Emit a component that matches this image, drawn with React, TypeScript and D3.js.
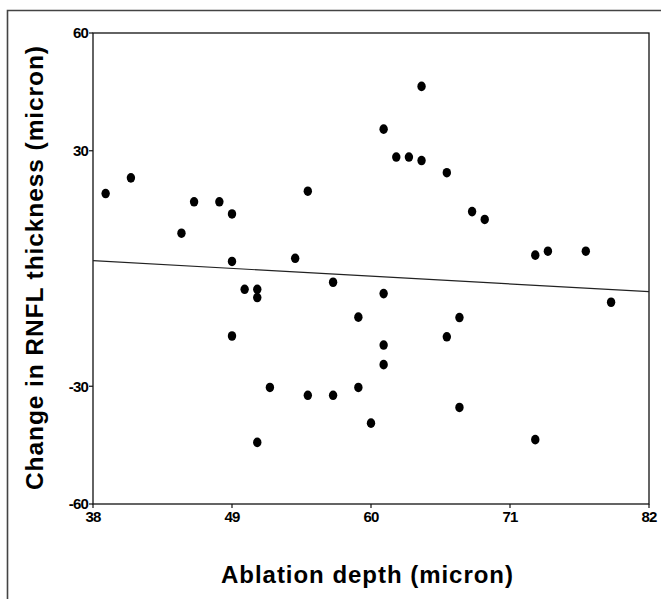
import { useRef, useEffect } from 'react';
import * as d3 from 'd3';

// values
const depth = [39, 41, 45, 46, 48, 49, 49, 49, 50, 51, 51, 51, 52, 54, 55, 55, 57, 57, 59, 59,
    60, 61, 61, 61, 61, 62, 63, 64, 64, 66, 66, 67, 67, 68, 69, 73, 73, 74, 77, 79];
const change = [19.1, 23.1, 9.0, 17.0, 17.0, 13.9, 1.8, -17.2, -5.3, -5.3, -7.4, -44.3, -30.3, 2.6, 19.7, -32.3, -3.5, -32.3, -12.4, -30.3,
    -39.4, 35.5, -6.4, -19.5, -24.5, 28.4, 28.4, 46.4, 27.5, 24.4, -17.4, -12.5, -35.4, 14.5, 12.5, 3.4, -43.6, 4.4, 4.4, -8.6];
const fitX = [38, 82];
const fitY = [2.0, -5.9];
const xTicks = [38, 49, 60, 71, 82];
const yTicks = [-60, -30, 30, 60];

const W = 661;
const H = 599;

const App = () => {
    const svgRef = useRef(null);

    useEffect(() => {
        const svg = d3.select(svgRef.current);
        svg.selectAll('*').remove();

        const left = 93, right = 649, top = 33, bottom = 504;
        const x = d3.scaleLinear().domain([38, 82]).range([left, right]);
        const y = d3.scaleLinear().domain([-60, 60]).range([bottom, top]);

        // outer frame (top and left only are visible)
        svg.append('path')
            .attr('d', 'M7.5,' + H + ' L7.5,10.5 L' + W + ',10.5')
            .attr('fill', 'none')
            .attr('stroke', '#444')
            .attr('stroke-width', 1.6);

        // plot box
        svg.append('rect')
            .attr('x', left).attr('y', top)
            .attr('width', right - left).attr('height', bottom - top)
            .attr('fill', 'none')
            .attr('stroke', '#111')
            .attr('stroke-width', 1.3);

        const tickFont = "'Liberation Sans Narrow', 'Arial Narrow', 'Liberation Sans', sans-serif";

        // y ticks
        const yg = svg.append('g');
        yTicks.forEach((t) => {
            yg.append('line')
                .attr('x1', left - 4).attr('x2', left)
                .attr('y1', y(t)).attr('y2', y(t))
                .attr('stroke', '#111').attr('stroke-width', 1.2);
            yg.append('text')
                .attr('x', left - 5)
                .attr('y', y(t))
                .attr('dy', '0.36em')
                .attr('text-anchor', 'end')
                .attr('font-family', tickFont)
                .attr('font-weight', 'bold')
                .attr('font-size', 15)
                .attr('letter-spacing', -0.8)
                .text(t);
        });

        // x ticks
        const xg = svg.append('g');
        xTicks.forEach((t) => {
            xg.append('line')
                .attr('x1', x(t)).attr('x2', x(t))
                .attr('y1', bottom).attr('y2', bottom + 4)
                .attr('stroke', '#111').attr('stroke-width', 1.2);
            xg.append('text')
                .attr('x', x(t))
                .attr('y', bottom + 18)
                .attr('text-anchor', 'middle')
                .attr('font-family', tickFont)
                .attr('font-weight', 'bold')
                .attr('font-size', 15)
                .attr('letter-spacing', -0.8)
                .text(t);
        });

        // fitted line
        const line = d3.line()
            .x((d) => x(d[0]))
            .y((d) => y(d[1]));
        svg.append('path')
            .datum(fitX.map((v, i) => [v, fitY[i]]))
            .attr('d', line)
            .attr('fill', 'none')
            .attr('stroke', '#222')
            .attr('stroke-width', 1.2);

        // points
        svg.append('g')
            .selectAll('ellipse')
            .data(depth.map((v, i) => [v, change[i]]))
            .join('ellipse')
            .attr('cx', (d) => x(d[0]))
            .attr('cy', (d) => y(d[1]))
            .attr('rx', 4.2)
            .attr('ry', 4.8)
            .attr('fill', '#000');

        const titleFont = "'Liberation Sans', Arial, Helvetica, sans-serif";

        svg.append('text')
            .attr('x', 367)
            .attr('y', 583)
            .attr('text-anchor', 'middle')
            .attr('font-family', titleFont)
            .attr('font-weight', 'bold')
            .attr('font-size', 24)
            .attr('textLength', 292)
            .attr('lengthAdjust', 'spacing')
            .text('Ablation depth (micron)');

        svg.append('text')
            .attr('transform', 'translate(43,268) rotate(-90)')
            .attr('text-anchor', 'middle')
            .attr('font-family', titleFont)
            .attr('font-weight', 'bold')
            .attr('font-size', 24.5)
            .attr('textLength', 444)
            .attr('lengthAdjust', 'spacing')
            .text('Change in RNFL thickness (micron)');
    }, []);

    return (
        <svg ref={svgRef} width={W} height={H}
            style={{ position: 'absolute', left: 0, top: 0, background: '#fff' }} />
    );
};

export default App;
